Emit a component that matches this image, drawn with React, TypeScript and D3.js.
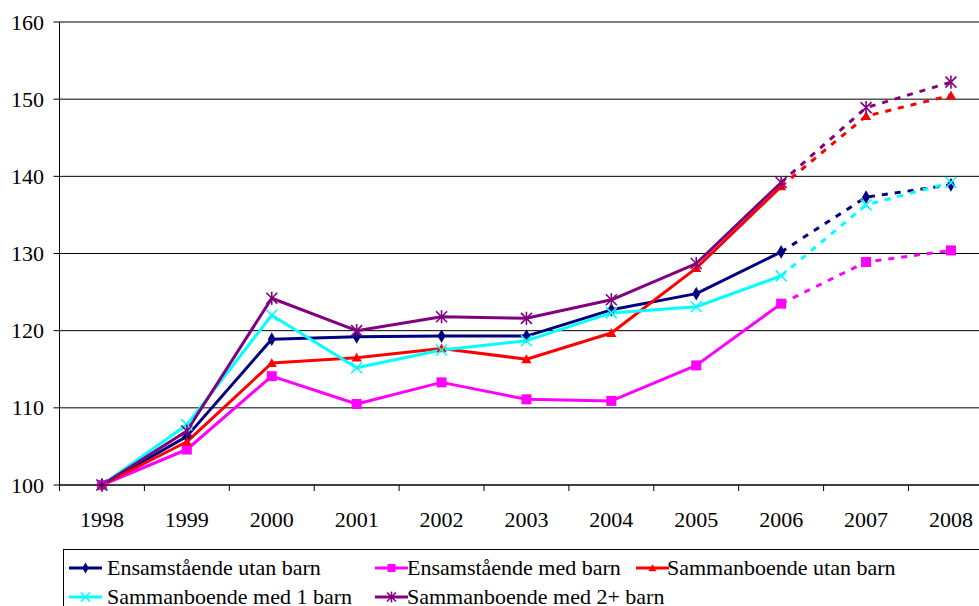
import React from "react";
import * as d3 from "d3";

const years = ["1998", "1999", "2000", "2001", "2002", "2003", "2004", "2005", "2006", "2007", "2008"];
const ensUtan = [100, 106.3, 118.9, 119.2, 119.3, 119.3, 122.7, 124.8, 130.2, 137.3, 138.9];
const ensMed = [100, 104.6, 114.1, 110.5, 113.3, 111.1, 110.9, 115.5, 123.5, 128.9, 130.4];
const samUtan = [100, 105.6, 115.8, 116.5, 117.7, 116.3, 119.7, 128.1, 138.7, 147.8, 150.5];
const sam1 = [100, 107.8, 122.0, 115.2, 117.5, 118.7, 122.3, 123.1, 127.1, 136.3, 139.2];
const sam2 = [100, 107.0, 124.2, 120.0, 121.8, 121.6, 124.0, 128.7, 139.2, 148.9, 152.2];
const yTicks = [100, 110, 120, 130, 140, 150, 160];
const solidUntil = 8; // index of 2006, dashed afterwards

const seriesNames = [
  "Ensamstående utan barn",
  "Ensamstående med barn",
  "Sammanboende utan barn",
  "Sammanboende med 1 barn",
  "Sammanboende med 2+ barn",
];

const series = [
  { name: seriesNames[0], values: ensUtan, color: "#000080", marker: "diamond" },
  { name: seriesNames[1], values: ensMed, color: "#FF00FF", marker: "square" },
  { name: seriesNames[2], values: samUtan, color: "#FF0000", marker: "triangle" },
  { name: seriesNames[3], values: sam1, color: "#00FFFF", marker: "x" },
  { name: seriesNames[4], values: sam2, color: "#800080", marker: "star" },
];

const W = 979;
const H = 606;
const FONT = "Liberation Serif";
const FS = 22;

function Marker({ type, x, y, color, s }: { type: string; x: number; y: number; color: string; s: number }) {
  if (type === "diamond") {
    const p = d3.symbol().type(d3.symbolDiamond).size(s * s * 0.55)();
    return <path d={p || ""} transform={`translate(${x},${y})`} fill={color} />;
  }
  if (type === "square") {
    return <rect x={x - s / 2} y={y - s / 2} width={s} height={s} fill={color} />;
  }
  if (type === "triangle") {
    const p = d3.symbol().type(d3.symbolTriangle).size(s * s * 0.45)();
    return <path d={p || ""} transform={`translate(${x},${y + 1})`} fill={color} />;
  }
  const r = s / 2;
  if (type === "x") {
    return (
      <g stroke={color} strokeWidth={1.6}>
        <line x1={x - r} y1={y - r} x2={x + r} y2={y + r} />
        <line x1={x - r} y1={y + r} x2={x + r} y2={y - r} />
      </g>
    );
  }
  return (
    <g stroke={color} strokeWidth={1.6}>
      <line x1={x - r} y1={y - r} x2={x + r} y2={y + r} />
      <line x1={x - r} y1={y + r} x2={x + r} y2={y - r} />
      <line x1={x} y1={y - r * 1.2} x2={x} y2={y + r * 1.2} />
    </g>
  );
}

export default function App() {
  const left = 59.5;
  const band = 84.9;
  const x = d3.scaleBand<string>().domain(years).range([left, left + band * years.length]);
  const y = d3.scaleLinear().domain([100, 160]).range([485, 22]);
  const cx = (i: number) => (x(years[i]) as number) + x.bandwidth() / 2;

  const line = d3
    .line<[number, number]>()
    .x((d) => cx(d[0]))
    .y((d) => y(d[1]));

  const legendRows = [
    { s: series[0], lx: 69, tx: 107, cy: 568, ty: 575 },
    { s: series[1], lx: 375, tx: 407, cy: 568, ty: 575 },
    { s: series[2], lx: 636, tx: 667, cy: 568, ty: 575 },
    { s: series[3], lx: 69, tx: 107, cy: 597, ty: 604 },
    { s: series[4], lx: 375, tx: 407, cy: 597, ty: 604 },
  ];

  return (
    <svg width={W} height={H} style={{ position: "absolute", left: 0, top: 0, background: "#fff" }}>
      <rect x={0} y={0} width={W} height={H} fill="#fff" />
      {/* gridlines */}
      {yTicks.map((t) => (
        <line key={t} x1={left} x2={W} y1={y(t)} y2={y(t)} stroke="#000" strokeWidth={1} />
      ))}
      {/* y axis */}
      <line x1={left} x2={left} y1={y(160)} y2={y(100)} stroke="#000" strokeWidth={1} />
      {yTicks.map((t) => (
        <g key={"yt" + t}>
          <line x1={left - 6} x2={left} y1={y(t)} y2={y(t)} stroke="#000" />
          <text x={44} y={y(t) + 7.5} textAnchor="end" fontSize={FS} fill="#000" fontFamily={FONT}>
            {t}
          </text>
        </g>
      ))}
      {/* x ticks */}
      {years.map((yr, i) => (
        <g key={"xt" + yr}>
          <line x1={x(yr) as number} x2={x(yr) as number} y1={485} y2={491} stroke="#000" />
          <text x={cx(i)} y={527} textAnchor="middle" fontSize={FS} fill="#000" fontFamily={FONT}>
            {yr}
          </text>
        </g>
      ))}
      {/* series lines */}
      {series.map((s) => {
        const pts: [number, number][] = s.values.map((v, i) => [i, v]);
        const solid = pts.slice(0, solidUntil + 1);
        const dashed = pts.slice(solidUntil);
        return (
          <g key={s.name}>
            <path d={line(solid) || ""} fill="none" stroke={s.color} strokeWidth={3} strokeLinejoin="round" />
            <path d={line(dashed) || ""} fill="none" stroke={s.color} strokeWidth={3} strokeDasharray="6,7" />
          </g>
        );
      })}
      {/* markers */}
      {series.map((s) =>
        s.values.map((v, i) => (
          <Marker
            key={s.name + i}
            type={s.marker}
            x={cx(i)}
            y={y(v)}
            color={s.color}
            s={s.marker === "star" || s.marker === "x" ? 11 : 10}
          />
        ))
      )}
      {/* x axis line */}
      <line x1={left} x2={W} y1={485} y2={485} stroke="#000" strokeWidth={1} />
      {/* legend */}
      <rect x={63.5} y={549.5} width={W} height={80} fill="#fff" stroke="#000" strokeWidth={1} />
      {legendRows.map((r) => (
        <g key={"lg" + r.s.name}>
          <line x1={r.lx} x2={r.lx + 33} y1={r.cy} y2={r.cy} stroke={r.s.color} strokeWidth={3} />
          <Marker
            type={r.s.marker}
            x={r.lx + 16.5}
            y={r.cy}
            color={r.s.color}
            s={r.s.marker === "star" || r.s.marker === "x" ? 9 : 8}
          />
          <text x={r.tx} y={r.ty} fontSize={FS} fill="#000" fontFamily={FONT}>
            {r.s.name}
          </text>
        </g>
      ))}
    </svg>
  );
}
